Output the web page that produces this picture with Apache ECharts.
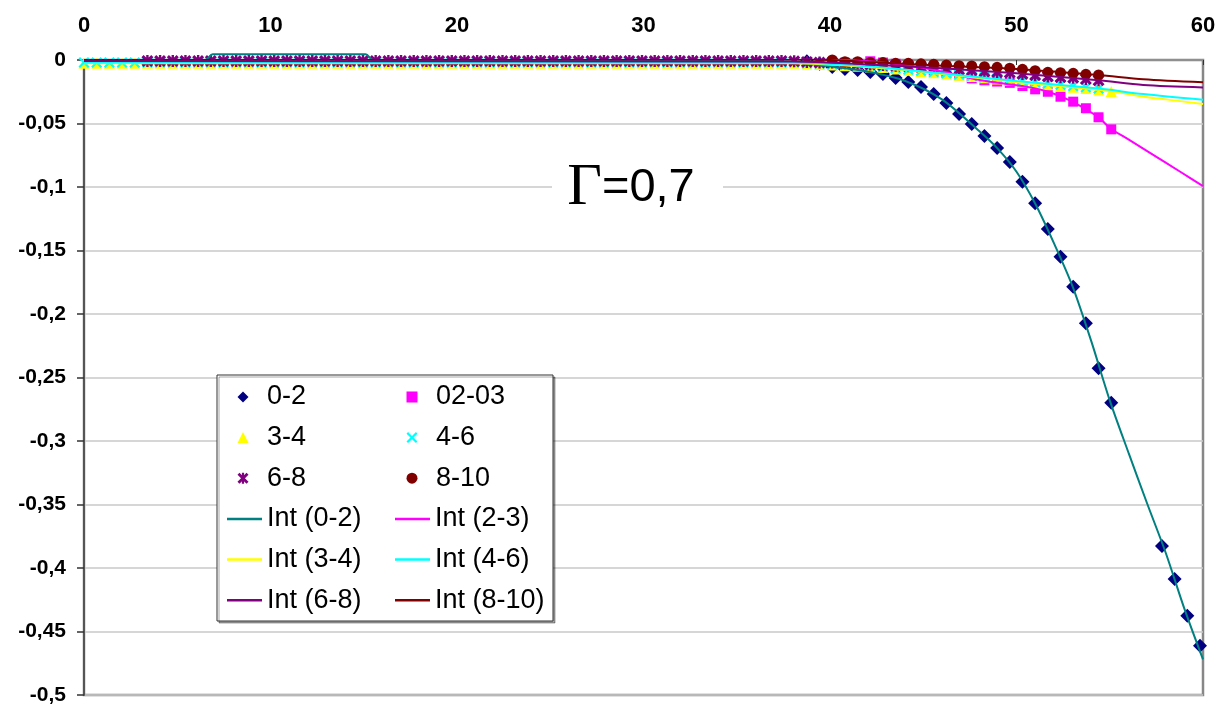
<!DOCTYPE html>
<html>
<head>
<meta charset="utf-8">
<script src="https://cdn.jsdelivr.net/npm/echarts@6/dist/echarts.min.js"></script>
<style>
html,body{margin:0;padding:0;background:#fff;}
#chart{width:1221px;height:707px;}
</style>
</head>
<body>
<div id="chart"></div>
<script>
// ---- shared x positions of the measured points ----
const xGrid = [
  0, 0.68, 1.36, 2.04, 2.72, 3.4, 4.08, 4.76, 5.44, 6.12,
  6.8, 7.48, 8.16, 8.84, 9.52, 10.2, 10.88, 11.56, 12.24, 12.92,
  13.6, 14.28, 14.96, 15.64, 16.32, 17, 17.68, 18.36, 19.04, 19.72,
  20.4, 21.08, 21.76, 22.44, 23.12, 23.8, 24.48, 25.16, 25.84, 26.52,
  27.2, 27.88, 28.56, 29.24, 29.92, 30.6, 31.28, 31.96, 32.64, 33.32,
  34, 34.68, 35.36, 36.04, 36.72, 37.4, 38.08, 38.76, 39.44, 40.12,
  40.8, 41.48, 42.16, 42.84, 43.52, 44.2, 44.88, 45.56, 46.24, 46.92,
  47.6, 48.28, 48.96, 49.64, 50.32, 51, 51.68, 52.36, 53.04, 53.72,
  54.4, 55.08, 55.76, 56.44, 57.12, 57.8, 58.48, 59.16, 59.84
];
// ---- measured series (aligned with xGrid) ----
const s0_2 = [
  null,null,null,null,null,null,null,null,null,null,
  null,null,null,null,null,null,null,null,null,null,
  null,null,null,null,null,null,null,null,null,null,
  null,null,null,null,null,null,null,null,null,null,
  null,null,null,null,null,null,null,null,null,null,
  null,null,null,null,null,0.001,0.0005,-0.001,-0.003,-0.0055,
  -0.0071,-0.0079,-0.0094,-0.011,-0.0142,-0.0173,-0.0213,-0.0268,-0.0339,-0.0425,
  -0.0504,-0.0598,-0.0693,-0.0803,-0.0958,-0.1128,-0.1331,-0.1549,-0.1785,-0.2073,
  -0.2428,-0.2698,null,null,null,-0.3827,-0.4087,-0.4376,-0.4612
];
const s02_03 = [
  0.0012,0.0012,0.0012,0.0012,0.0012,0.0012,0.0012,0.0012,0.0012,0.0012,
  0.0012,0.0012,0.0012,0.0012,0.0012,0.0012,0.0012,0.0012,0.0012,0.0012,
  0.0012,0.0012,0.0012,0.0012,0.0012,0.0012,0.0012,0.0012,0.0012,0.0012,
  0.0012,0.0012,0.0012,0.0012,0.0012,0.0012,0.0012,0.0012,0.0012,0.0012,
  0.0012,0.0012,0.0012,0.0012,0.0012,0.0012,0.0012,0.0012,0.0012,0.0012,
  0.0012,0.0012,0.0012,0.0012,0.0012,0.0012,0.0012,0.0012,0.0012,0.0015,
  0.0015,0.001,-0.001,-0.002,-0.003,-0.004,-0.006,-0.008,-0.010,-0.012,
  -0.0145,-0.016,-0.017,-0.018,-0.0205,-0.0231,-0.025,-0.0289,-0.0328,-0.038,
  -0.0451,-0.0546,null,null,null,null,null,null,null
];
const s3_4 = [
  -0.0025,-0.0025,-0.0025,-0.0025,-0.0025,-0.0025,-0.0025,-0.0025,-0.0025,-0.0025,
  -0.0025,-0.0025,-0.0025,-0.0025,-0.0025,-0.0025,-0.0025,-0.0025,-0.0025,-0.0025,
  -0.0025,-0.0025,-0.0025,-0.0025,-0.0025,-0.0025,-0.0025,-0.0025,-0.0025,-0.0025,
  -0.0025,-0.0025,-0.0025,-0.0025,-0.0025,-0.0025,-0.0025,-0.0025,-0.0025,-0.0025,
  -0.0025,-0.0025,-0.0025,-0.0025,-0.0025,-0.0025,-0.0025,-0.0025,-0.0025,-0.0025,
  -0.0025,-0.0025,-0.0025,-0.0025,-0.0025,-0.0025,-0.0025,-0.003,-0.0035,-0.004,
  -0.0045,-0.005,-0.0055,-0.006,-0.007,-0.008,-0.009,-0.010,-0.011,-0.012,
  -0.013,-0.014,-0.015,-0.016,-0.0175,-0.0185,-0.0195,-0.0205,-0.0215,-0.0225,
  -0.0235,-0.0248,null,null,null,null,null,null,null
];
const s4_6 = [
  -0.002,-0.002,-0.002,-0.002,-0.002,-0.002,-0.002,-0.002,-0.002,-0.002,
  -0.002,-0.002,-0.002,-0.002,-0.002,-0.002,-0.002,-0.002,-0.002,-0.002,
  -0.002,-0.002,-0.002,-0.002,-0.002,-0.002,-0.002,-0.002,-0.002,-0.002,
  -0.002,-0.002,-0.002,-0.002,-0.002,-0.002,-0.002,-0.002,-0.002,-0.002,
  -0.002,-0.002,-0.002,-0.002,-0.002,-0.002,-0.002,-0.002,-0.002,-0.002,
  -0.002,-0.002,-0.002,-0.002,-0.002,-0.002,-0.002,-0.0025,-0.003,-0.0035,
  -0.004,-0.0045,-0.005,-0.0055,-0.0065,-0.0075,-0.0085,-0.0095,-0.0105,-0.0115,
  -0.0125,-0.0135,-0.0145,-0.0155,-0.0165,-0.0175,-0.0185,-0.0195,-0.0205,-0.0215,
  -0.0225,null,null,null,null,null,null,null,null
];
const s6_8 = [
  null,null,null,null,null,-0.0008,-0.0008,-0.0008,-0.0008,-0.0008,
  -0.0008,-0.0008,-0.0008,-0.0008,-0.0008,-0.0008,-0.0008,-0.0008,-0.0008,-0.0008,
  -0.0008,-0.0008,-0.0008,-0.0008,-0.0008,-0.0008,-0.0008,-0.0008,-0.0008,-0.0008,
  -0.0008,-0.0008,-0.0008,-0.0008,-0.0008,-0.0008,-0.0008,-0.0008,-0.0008,-0.0008,
  -0.0008,-0.0008,-0.0008,-0.0008,-0.0008,-0.0008,-0.0008,-0.0008,-0.0008,-0.0008,
  -0.0008,-0.0008,-0.0008,-0.0008,-0.0008,-0.0008,-0.001,-0.0015,-0.002,-0.002,
  -0.0025,-0.003,-0.0035,-0.004,-0.0045,-0.005,-0.0055,-0.006,-0.007,-0.0075,
  -0.008,-0.009,-0.0095,-0.010,-0.011,-0.012,-0.013,-0.0135,-0.014,-0.015,
  -0.016,null,null,null,null,null,null,null,null
];
const s8_10 = [
  null,null,null,null,null,null,null,null,null,null,
  null,null,null,null,null,null,null,null,null,null,
  null,null,null,null,null,null,null,null,null,null,
  null,null,null,null,null,null,null,null,null,null,
  null,null,null,null,null,null,null,0.0005,0.0005,0.0005,
  0.0005,0.0005,0.0005,0.0005,0.0005,0.0005,0.0005,0.0005,0.0005,0,
  -0.0013,-0.0013,-0.002,-0.002,-0.0026,-0.0026,-0.003,-0.0034,-0.004,-0.0045,
  -0.0047,-0.0053,-0.0058,-0.0065,-0.0073,-0.0084,-0.0097,-0.010,-0.0105,-0.0113,
  -0.0118,null,null,null,null,null,null,null,null
];
// ---- fitted curves ("Int") ----
const int0_2X = [0, 6.5, 6.9, 15.1, 15.5, 36, 38, 40, 42, 44, 46, 48, 49, 50, 51, 52, 53, 54, 55, 56, 57, 58, 59, 60];
const int0_2Y = [0, 0, 0.0045, 0.0045, 0, 0, -0.002, -0.005, -0.009, -0.0163, -0.031, -0.056, -0.07, -0.088, -0.113, -0.144, -0.178, -0.221, -0.268, -0.309, -0.349, -0.388, -0.432, -0.472];
const int2_3X = [0, 38, 40, 42, 44, 46, 47.6, 49, 50.3, 51.7, 53, 54.4, 55, 56, 57.2, 58.8, 60];
const int2_3Y = [0.0015, 0.0015, 0.0005, -0.001, -0.004, -0.009, -0.0145, -0.018, -0.0205, -0.025, -0.0328, -0.0451, -0.0535, -0.0625, -0.0735, -0.0882, -0.0993];
const int3_4X = [0, 38, 42, 46, 50, 55, 56.8, 58, 60];
const int3_4Y = [-0.0025, -0.0025, -0.0055, -0.011, -0.0175, -0.0245, -0.029, -0.031, -0.0347];
const int4_6X = [0, 38, 42, 46, 50, 54.4, 56.8, 60];
const int4_6Y = [-0.002, -0.002, -0.005, -0.0105, -0.0165, -0.0225, -0.0268, -0.0313];
const int6_8X = [0, 38, 42, 46, 50, 54.4, 56.8, 60];
const int6_8Y = [-0.0008, -0.0012, -0.0035, -0.0065, -0.0105, -0.016, -0.0197, -0.0216];
const int8_10X = [0, 38, 40, 42, 46, 50, 54.4, 56.8, 60];
const int8_10Y = [0.0005, 0.0005, 0, -0.0015, -0.0045, -0.007, -0.0118, -0.0152, -0.0176];
const xTicks = [0, 10, 20, 30, 40, 50, 60];
const yTicks = [0, -0.05, -0.1, -0.15, -0.2, -0.25, -0.3, -0.35, -0.4, -0.45, -0.5];
const annotation = 'Γ=0,7';

const FONT = '"Liberation Sans", Arial, sans-serif';
const XMARK = 'path://M0,1.4 L1.4,0 L5,3.6 L8.6,0 L10,1.4 L6.4,5 L10,8.6 L8.6,10 L5,6.4 L1.4,10 L0,8.6 L3.6,5 Z';
const STAR = 'path://M0,1.8 L1.8,0 L5,3.2 L8.2,0 L10,1.8 L6.8,5 L10,8.2 L8.2,10 L5,6.8 L1.8,10 L0,8.2 L3.2,5 Z M4,0 L6,0 L6,10 L4,10 Z';

function pts(vals) {
  const out = [];
  vals.forEach((v, i) => { if (v !== null) out.push([xGrid[i], v]); });
  return out;
}
function pairs(xs, ys) { return xs.map((x, i) => [x, ys[i]]); }

function scatter(name, vals, color, symbol, size) {
  return { name, type: 'scatter', data: pts(vals), symbol, symbolSize: size,
    itemStyle: { color, opacity: 1 }, emphasis: { disabled: true }, z: 2 };
}
function curve(name, xs, ys, color, clip) {
  return { name, type: 'line', data: pairs(xs, ys), showSymbol: false, symbol: 'none',
    smooth: 0.3, clip: clip,
    lineStyle: { color, width: 2 }, itemStyle: { color }, emphasis: { disabled: true }, z: 3 };
}

const chart = echarts.init(document.getElementById('chart'), null, { renderer: 'canvas' });

const markerText = { fontSize: 27, lineHeight: 30, color: '#000', fontFamily: FONT, padding: [0, 0, 0, 13.5] };
const lineText = { fontSize: 27, lineHeight: 30, color: '#000', fontFamily: FONT };

chart.setOption({
  animation: false,
  backgroundColor: '#fff',
  grid: { left: 84, right: 18, top: 60, bottom: 12, show: true, borderColor: '#878787', borderWidth: 2.5, backgroundColor: 'transparent' },
  xAxis: {
    type: 'value', min: xTicks[0], max: xTicks[xTicks.length - 1], interval: 10, position: 'top',
    axisLine: { show: true, onZero: false, lineStyle: { color: '#8f8f8f', width: 2 } },
    axisTick: { show: true, inside: true, length: 5, lineStyle: { color: '#333', width: 1 } },
    axisLabel: { fontSize: 22, fontWeight: 'bold', color: '#000', fontFamily: FONT, margin: 23 },
    splitLine: { show: false }
  },
  yAxis: {
    type: 'value', min: yTicks[yTicks.length - 1], max: yTicks[0], interval: 0.05,
    axisLine: { show: true, onZero: false, lineStyle: { color: '#555', width: 2 } },
    axisTick: { show: true, inside: false, length: 7, lineStyle: { color: '#333', width: 1.5 } },
    axisLabel: { fontSize: 21, fontWeight: 'bold', color: '#000', fontFamily: FONT, margin: 18,
      formatter: v => Math.abs(v) < 1e-9 ? '0' : String(+v.toFixed(2)).replace('.', ',') },
    splitLine: { show: true, lineStyle: { color: '#c8c8c8', width: 1.5 } }
  },
  legend: [
    { orient: 'vertical', left: 237.5, top: 382, padding: 0, itemWidth: 11, itemHeight: 11, itemGap: 10.6,
      selectedMode: false, textStyle: markerText,
      data: [{ name: '0-2', icon: 'diamond' }, { name: '3-4', icon: 'triangle' }, { name: '6-8', icon: STAR }] },
    { orient: 'vertical', left: 406.5, top: 382, padding: 0, itemWidth: 11, itemHeight: 11, itemGap: 10.6,
      selectedMode: false, textStyle: markerText,
      data: [{ name: '02-03', icon: 'rect' }, { name: '4-6', icon: XMARK }, { name: '8-10', icon: 'circle' }] },
    { orient: 'vertical', left: 227, top: 504, padding: 0, itemWidth: 35, itemHeight: 2.5, itemGap: 10.6,
      selectedMode: false, icon: 'rect', textStyle: lineText,
      data: ['Int (0-2)', 'Int (3-4)', 'Int (6-8)'] },
    { orient: 'vertical', left: 395, top: 504, padding: 0, itemWidth: 35, itemHeight: 2.5, itemGap: 10.6,
      selectedMode: false, icon: 'rect', textStyle: lineText,
      data: ['Int (2-3)', 'Int (4-6)', 'Int (8-10)'] }
  ],
  graphic: [
    { type: 'rect', z: 3, shape: { x: 217, y: 375, width: 336, height: 246 },
      style: { fill: '#fff', stroke: '#333', lineWidth: 1, shadowColor: 'rgba(0,0,0,0.35)', shadowOffsetX: 2, shadowOffsetY: 2, shadowBlur: 0 } },
    { type: 'rect', z: 3, shape: { x: 552, y: 160, width: 171, height: 56 }, style: { fill: '#fff' } },
    { type: 'text', z: 4, x: 631, y: 188,
      style: { text: '{g|' + annotation.charAt(0) + '}{r|' + annotation.slice(1) + '}', fill: '#000',
        align: 'center', verticalAlign: 'middle',
        rich: { g: { fontFamily: '"Liberation Serif", "Times New Roman", serif', fontSize: 60, fill: '#000' },
                r: { fontFamily: FONT, fontSize: 47, fill: '#000' } } } }
  ],
  series: [
    scatter('0-2', s0_2, '#000080', 'diamond', 14),
    scatter('02-03', s02_03, '#ff00ff', 'rect', 10),
    scatter('3-4', s3_4, '#ffff00', 'triangle', 11),
    scatter('4-6', s4_6, '#00ffff', XMARK, 11),
    scatter('6-8', s6_8, '#800080', STAR, 12),
    scatter('8-10', s8_10, '#800000', 'circle', 11),
    curve('Int (0-2)', int0_2X, int0_2Y, '#008080', false),
    curve('Int (2-3)', int2_3X, int2_3Y, '#ff00ff', true),
    curve('Int (3-4)', int3_4X, int3_4Y, '#ffff00', true),
    curve('Int (4-6)', int4_6X, int4_6Y, '#00ffff', true),
    curve('Int (6-8)', int6_8X, int6_8Y, '#800080', true),
    curve('Int (8-10)', int8_10X, int8_10Y, '#800000', true)
  ]
});
</script>
</body>
</html>
